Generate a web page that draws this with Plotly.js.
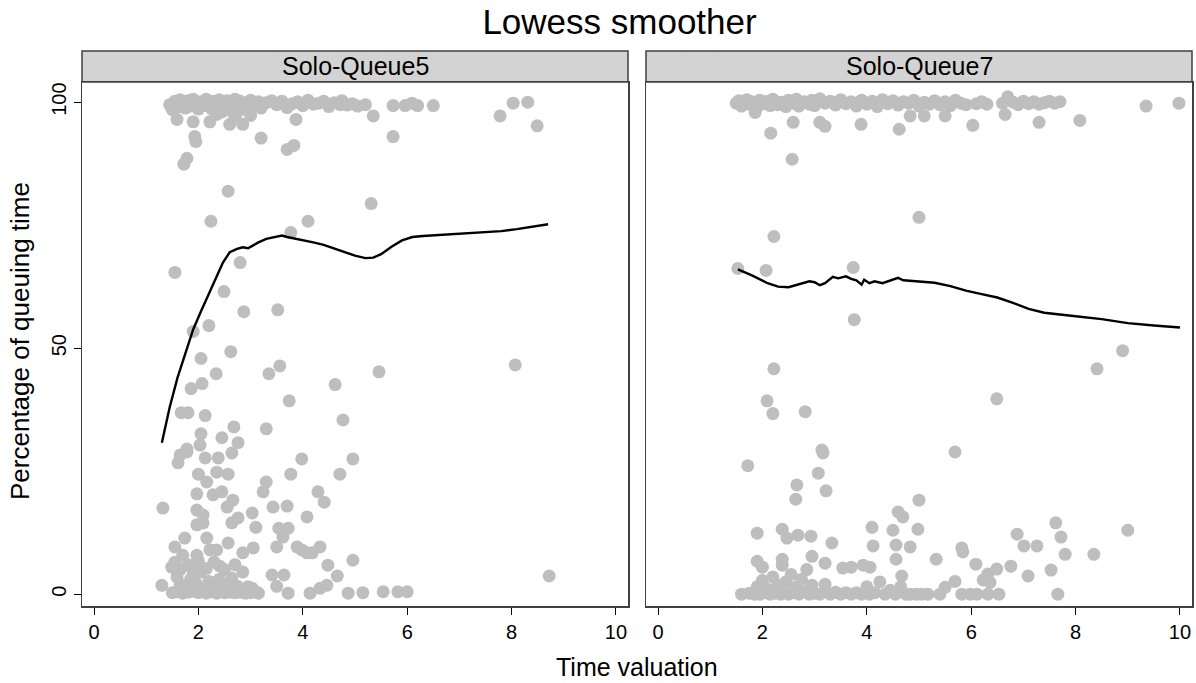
<!DOCTYPE html>
<html>
<head>
<meta charset="utf-8">
<script src="https://cdn.plot.ly/plotly-3.0.1.min.js"></script>
<style>html,body{margin:0;padding:0;background:#fff;}#chart{width:1196px;height:683px;}</style>
</head>
<body>
<div id="chart"></div>
<script>
// Panel titles
const panels = ["Solo-Queue5", "Solo-Queue7"];

// Solo-Queue5 scatter
const q5x = [1.45,1.5,1.55,1.6,1.65,1.7,1.75,1.8,1.85,1.9,1.95,2.0,2.05,2.1,2.15,2.2,2.25,2.3,2.35,2.4,2.5,2.55,2.6,2.65,2.7,2.75,2.8,2.85,2.9,3.0,3.05,3.15,3.2,3.3,3.4,3.5,3.6,3.7,3.8,3.9,4.0,4.1,4.2,4.3,4.4,4.5,4.6,4.75,4.85,4.95,5.05,
  1.59,1.9,2.22,2.6,2.85,3.87,1.93,1.95,3.2,3.7,3.83,1.78,1.72,2.57,2.24,4.1,3.77,5.35,5.73,5.96,6.09,6.2,6.5,5.73,7.78,8.03,8.31,8.49,5.31,2.35,2.7,3.0,2.45,2.75,4.72,5.2,
  1.55,2.8,2.49,2.87,3.52,1.9,2.2,2.62,2.05,2.34,3.35,3.56,4.62,2.07,1.86,3.74,1.67,1.8,2.13,4.77,2.68,3.3,2.05,2.45,2.76,1.78,2.03,5.46,8.07,
  1.65,1.78,1.61,2.13,2.38,2.64,3.98,4.96,2.0,2.16,2.35,2.57,3.3,3.24,3.77,4.71,4.29,4.41,1.97,2.28,2.45,2.66,2.55,1.32,1.97,2.09,1.97,2.09,2.64,2.76,3.03,3.1,3.43,3.7,4.08,3.54,3.72,3.62,1.74,2.16,1.55,1.7,1.97,2.22,2.35,2.57,2.85,3.05,3.5,3.89,4.08,4.33,3.98,4.18,4.48,4.96,4.66,2.41,1.49,1.59,2.64,3.41,3.64,3.5,3.72,1.3,4.14,4.46,4.33,4.87,3.03,3.12,5.15,5.54,5.82,6.0,8.72,
  1.5,1.6,1.65,1.7,1.75,1.8,1.85,1.9,1.95,2.0,2.05,2.1,2.15,2.2,2.25,2.3,2.35,2.4,2.45,2.5,2.55,2.6,2.7,2.75,2.8,2.9,2.95,3.0,3.15,1.55,1.65,1.8,1.9,2.0,2.15,2.3,2.5,2.7,2.85];
const q5y = [99.5,98.5,100.2,99,100.5,99.8,98.8,100.3,99.2,100.6,99.6,98.6,100.1,99.3,100.6,99.7,98.7,100.2,99.4,100.5,99.1,100.3,98.4,99.8,100.6,99,100.2,98.6,99.6,100.4,99.2,100.1,98.8,99.9,100.3,99.5,100.2,98.9,99.7,100.1,99.3,100.4,99.6,99.8,100.2,99.1,99.9,100.3,99.4,99.7,99.2,
  96.5,96,96,95.5,95.5,96.5,93,92,92.7,90.4,91.2,88.6,87.4,81.9,75.8,75.8,73.5,97.2,99.3,99.3,99.8,99.3,99.3,93,97.2,99.8,100,95.2,79.4,97.5,97,97.3,98,98,99.5,99.5,
  65.4,67.4,61.5,57.4,57.8,53.4,54.6,49.3,47.9,44.8,44.8,46.4,42.6,42.8,41.8,39.3,36.9,36.9,36.3,35.4,34,33.6,32.6,31.8,30.8,29.5,30.3,45.2,46.6,
  28.3,28.9,26.7,27.7,27.7,28.7,27.5,27.5,24.4,22.8,24.8,24.4,22.8,20.8,24.4,24.4,20.8,18.7,20.4,20.2,20.8,19.1,17.7,17.5,17.1,16.1,14.1,14.5,14.5,15.5,16.5,13.6,17.7,17.9,15.7,13.4,13.4,11.6,11.4,11.4,9.6,7.9,7.9,9,9,10.4,8.4,9.4,9.6,9.6,8.4,9.6,9,8.4,5.9,6.9,3.7,5.7,5.5,3.5,3.3,3.9,3.9,1.6,0.2,1.8,0.2,1.8,1.2,0.2,1.2,0.4,0.3,0.5,0.5,0.5,3.7,
  0.3,0.5,2,0.2,1.5,0.4,3,0.6,2.2,0.3,4.5,1,0.2,2.6,0.5,1.5,0.2,3,0.8,0.3,1.8,0.4,0.3,1.6,0.4,0.2,1.5,0.3,0.2,6.5,5,6,4.5,6.8,5.2,6.5,5,6,4.5];

// Solo-Queue7 scatter
const q7x = [1.5,1.55,1.6,1.7,1.75,1.8,1.9,1.95,2.0,2.1,2.15,2.2,2.3,2.35,2.45,2.5,2.6,2.65,2.7,2.8,2.9,2.95,3.0,3.1,3.2,3.3,3.4,3.5,3.6,3.7,3.8,3.9,4.0,4.1,4.2,4.3,4.4,4.5,4.6,4.7,4.8,4.9,5.0,5.1,5.2,5.3,5.4,5.5,5.6,5.7,5.8,5.9,6.1,6.2,6.3,6.6,6.7,6.8,6.9,7.0,7.1,7.2,7.3,7.4,7.5,7.6,7.7,
  4.83,5.1,5.5,6.65,1.86,2.59,3.1,3.2,3.89,4.62,2.16,2.57,5.0,2.22,6.03,7.3,8.08,9.35,9.98,
  1.53,2.07,3.74,3.76,2.22,2.09,2.2,2.82,3.14,8.9,8.41,6.49,5.69,
  1.72,3.16,3.07,3.22,2.66,2.64,5.0,4.6,4.69,1.9,2.38,2.47,2.68,2.93,3.33,4.1,4.5,4.98,4.12,4.56,4.83,1.9,2.0,2.38,2.38,2.95,3.2,3.54,3.7,3.93,4.06,4.56,4.67,5.33,5.82,5.84,6.09,6.49,6.32,6.36,6.23,6.76,6.88,7.01,7.26,7.09,7.53,7.62,7.72,7.8,8.35,9.0,7.66,5.17,5.4,5.5,5.69,5.82,5.98,6.11,6.32,6.53,4.83,
  1.6,1.75,1.85,1.9,1.95,2.0,2.05,2.1,2.15,2.2,2.25,2.3,2.35,2.4,2.45,2.5,2.55,2.6,2.65,2.7,2.75,2.8,2.85,2.9,2.95,3.0,3.1,3.2,3.3,3.4,3.5,3.6,3.7,3.8,3.9,4.0,4.05,4.15,4.25,4.35,4.45,4.55,4.65,4.75,4.95,5.05];
const q7y = [99.8,100.3,99.2,100.5,99.6,100.1,99,100.4,99.7,100.2,99.3,100.6,99.5,100,99.1,100.4,99.8,100.6,99.2,100.1,99.6,100.4,99.3,100.7,99.8,100.2,99.4,100.5,99.7,100.1,99.2,100.4,99.6,100.2,99.1,100.5,99.7,100.3,99.4,100.1,99.8,100.4,99.2,100,99.6,100.3,99.5,100.1,99.3,100.4,99.8,99.5,99.7,100.1,99.6,99.8,101.1,100,99.5,100.2,99.7,100.1,99.6,99.9,100.2,99.8,100.1,
  97.2,97.2,97.2,97.5,97.9,95.9,95.9,95.1,95.5,94.5,93.7,88.4,76.6,72.7,95.3,95.9,96.3,99.2,99.8,
  66.2,65.8,66.4,55.8,45.8,39.3,36.7,37.1,29.3,49.5,45.8,39.7,28.9,
  26.1,28.7,24.6,21,22.2,19.3,19.1,16.7,15.7,12.4,13.2,11.4,12,11.8,10.4,13.6,13,13.2,9.8,10,9.6,6.7,5.5,7.1,5.9,7.7,6.3,5.3,5.5,5.9,5.5,7.1,3.7,7.1,9.4,8.6,6.1,5.1,4.1,2.4,2.9,5.7,12.2,9.8,9.8,3.7,4.9,14.5,11.6,8.1,8.1,13,0,0,0,1.4,2.6,0,0,0,0,0,0,
  0,0.2,0,1.5,0,2.8,0.3,1,0,3.5,0.2,1.8,0,0.5,2.5,0,4,0.3,1.5,0,3,0.5,5,0,1.8,0.2,0,2,0,0.4,0,0.3,0,0.3,0,1.5,0,0.3,2.5,0,0.8,0,1.5,0,0,0];

// Lowess smoother curves
const l5x = [1.3,1.45,1.6,1.75,1.9,2.05,2.2,2.35,2.47,2.6,2.74,2.85,2.95,3.05,3.15,3.3,3.45,3.6,3.7,3.85,4.0,4.2,4.4,4.6,4.85,5.0,5.2,5.35,5.5,5.7,5.9,6.1,6.3,6.8,7.3,7.8,8.1,8.4,8.7];
const l5y = [30.8,38,44,49,53.8,57.5,61,64.5,67.4,69.5,70.2,70.5,70.3,70.9,71.5,72.2,72.6,72.9,72.6,72.3,72,71.5,71,70.3,69.4,68.8,68.3,68.4,69.1,70.6,71.9,72.6,72.8,73.1,73.4,73.8,74.2,74.7,75.2];
const l7x = [1.53,1.8,2.1,2.3,2.5,2.7,2.9,3.0,3.1,3.2,3.35,3.45,3.6,3.7,3.8,3.9,3.95,4.05,4.15,4.3,4.45,4.6,4.7,4.9,5.1,5.3,5.6,5.9,6.2,6.5,6.8,7.1,7.4,7.7,8.0,8.5,9.0,9.5,10.0];
const l7y = [66,64.8,63.2,62.5,62.4,63,63.6,63.4,62.8,63.2,64.5,64.2,64.6,64.1,63.8,62.9,63.9,63.2,63.6,63.2,63.7,64.3,63.8,63.6,63.4,63.3,62.6,61.7,61,60.3,59.2,58,57.2,56.8,56.5,55.9,55.1,54.6,54.2];

// Axis ticks
const xTicks = [0,2,4,6,8,10];
const yTicks = [0,50,100];

const FONT = "Liberation Sans, Arial, sans-serif";
const grey = "#BEBEBE";

const traces = [
  {x:q5x, y:q5y, type:"scatter", mode:"markers", marker:{color:grey, size:13}, xaxis:"x", yaxis:"y", hoverinfo:"skip"},
  {x:l5x, y:l5y, type:"scatter", mode:"lines", line:{color:"#000", width:2.4}, xaxis:"x", yaxis:"y", hoverinfo:"skip"},
  {x:q7x, y:q7y, type:"scatter", mode:"markers", marker:{color:grey, size:13}, xaxis:"x2", yaxis:"y2", hoverinfo:"skip"},
  {x:l7x, y:l7y, type:"scatter", mode:"lines", line:{color:"#000", width:2.4}, xaxis:"x2", yaxis:"y2", hoverinfo:"skip"}
];

const yTop = 524/555;
const axCommon = {
  range:[-0.23,10.23], tickvals:xTicks, ticktext:xTicks.map(String), ticks:"outside", ticklen:7, tickcolor:"#000",
  showgrid:false, zeroline:false, showline:true, mirror:true, linecolor:"#404040", linewidth:1.5,
  tickfont:{family:FONT, size:20, color:"#000"}
};
const yCommon = {
  range:[-2.4,104.1], showgrid:false, zeroline:false, showline:true, mirror:true, linecolor:"#404040", linewidth:1.5,
  domain:[0,yTop]
};

const layout = {
  width:1196, height:683,
  paper_bgcolor:"#fff", plot_bgcolor:"#fff",
  margin:{l:82, r:4, t:51, b:77},
  showlegend:false,
  title:{text:"Lowess smoother", x:0.518, xanchor:"center", xref:"container", yref:"container", y:1-22/683, yanchor:"middle", font:{family:FONT, size:35, color:"#000"}},
  xaxis:Object.assign({}, axCommon, {domain:[0, 546/1110], anchor:"y"}),
  xaxis2:Object.assign({}, axCommon, {domain:[564/1110, 1], anchor:"y2"}),
  yaxis:Object.assign({}, yCommon, {anchor:"x", tickvals:yTicks, ticktext:yTicks.map(String), ticks:"outside", ticklen:7, tickcolor:"#000", tickangle:-90,
    tickfont:{family:FONT, size:20, color:"#000"}}),
  yaxis2:Object.assign({}, yCommon, {anchor:"x2", showticklabels:false, ticks:""}),
  shapes:[
    {type:"rect", xref:"paper", yref:"paper", x0:0, x1:546/1110, y0:yTop, y1:1, fillcolor:"#D3D3D3", line:{color:"#404040", width:1.5}, layer:"below"},
    {type:"rect", xref:"paper", yref:"paper", x0:564/1110, x1:1, y0:yTop, y1:1, fillcolor:"#D3D3D3", line:{color:"#404040", width:1.5}, layer:"below"}
  ],
  annotations:[
    {text:panels[0], xref:"paper", yref:"paper", x:273/1110, y:(1+yTop)/2, xanchor:"center", yanchor:"middle", showarrow:false, font:{family:FONT, size:25, color:"#000"}},
    {text:panels[1], xref:"paper", yref:"paper", x:(564+273)/1110, y:(1+yTop)/2, xanchor:"center", yanchor:"middle", showarrow:false, font:{family:FONT, size:25, color:"#000"}},
    {text:"Time valuation", xref:"paper", yref:"paper", x:0.5, y:-61/555, xanchor:"center", yanchor:"middle", showarrow:false, font:{family:FONT, size:25, color:"#000"}},
    {text:"Percentage of queuing time", xref:"paper", yref:"paper", x:-62/1110, y:(yTop/2)+3/555, xanchor:"center", yanchor:"middle", textangle:-90, showarrow:false, font:{family:FONT, size:26, color:"#000"}}
  ]
};

Plotly.newPlot("chart", traces, layout, {displayModeBar:false, staticPlot:true});
</script>
</body>
</html>
